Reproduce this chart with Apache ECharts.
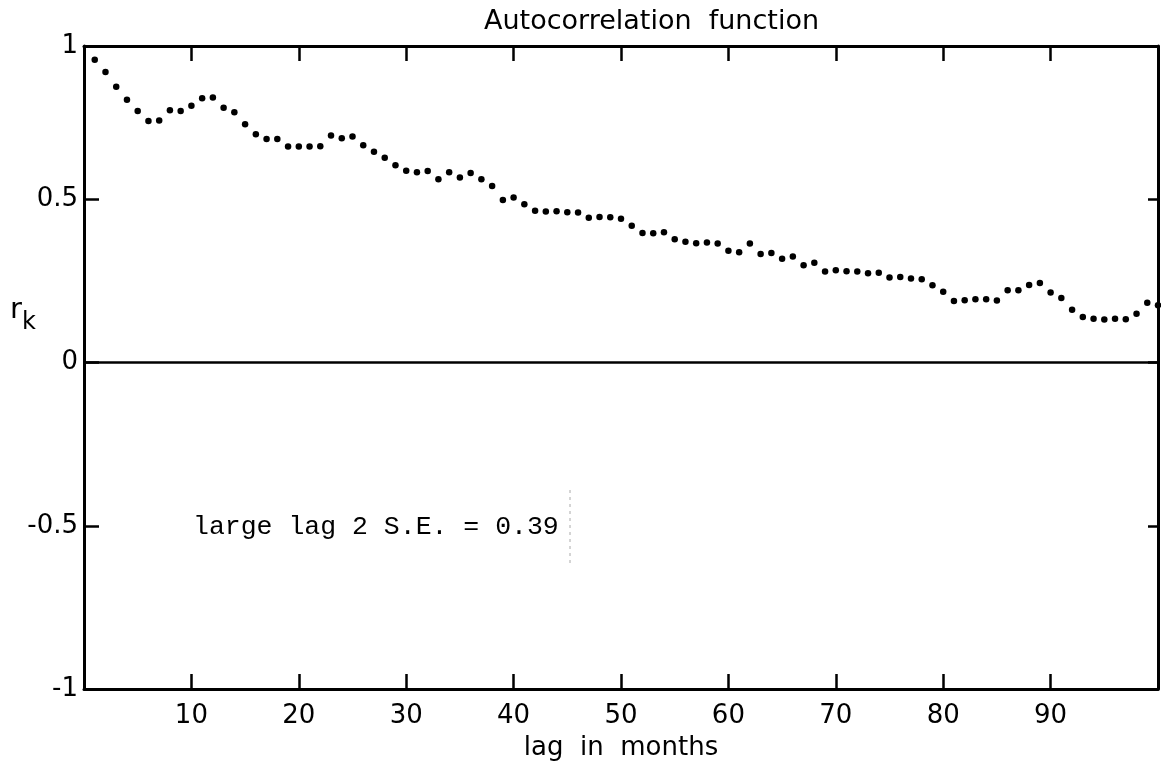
<!DOCTYPE html>
<html>
<head>
<meta charset="utf-8">
<title>Autocorrelation function</title>
<script src="https://cdn.jsdelivr.net/npm/echarts@6/dist/echarts.min.js"></script>
<style>
  html, body { margin: 0; padding: 0; background: #ffffff; }
  #chart { width: 1161px; height: 768px; }
</style>
</head>
<body>
<div id="chart"></div>
<script>
// Sample autocorrelation r_k for lags 1..100 (months)
const acf = [
  0.928, 0.890, 0.845, 0.805, 0.771, 0.740, 0.742, 0.773, 0.771, 0.787,
  0.810, 0.812, 0.781, 0.767, 0.730, 0.700, 0.685, 0.685, 0.662, 0.662,
  0.662, 0.663, 0.696, 0.687, 0.693, 0.666, 0.646, 0.628, 0.605, 0.588,
  0.583, 0.587, 0.562, 0.583, 0.567, 0.581, 0.562, 0.541, 0.498, 0.506,
  0.485, 0.465, 0.463, 0.464, 0.461, 0.460, 0.444, 0.446, 0.445, 0.441,
  0.419, 0.397, 0.396, 0.399, 0.378, 0.370, 0.366, 0.368, 0.365, 0.343,
  0.338, 0.365, 0.333, 0.336, 0.318, 0.325, 0.298, 0.306, 0.279, 0.283,
  0.280, 0.279, 0.274, 0.275, 0.261, 0.262, 0.258, 0.255, 0.237, 0.217,
  0.189, 0.191, 0.194, 0.194, 0.190, 0.222, 0.222, 0.238, 0.244, 0.215,
  0.198, 0.162, 0.140, 0.134, 0.132, 0.134, 0.133, 0.150, 0.183, 0.176
];

// Axis ranges and tick settings
const lagRange = [0, 100];
const lagStep = 10;
const rRange = [-1, 0.97];
const rStep = 0.5;

const titleText = 'Autocorrelation  function';
const xName = 'lag  in  months';
const seNote = 'large lag 2 S.E. = 0.39';

const points = acf.map((r, i) => [i + 1, r]);

const ink = '#000000';
const tickFont = '"DejaVu Sans", "Noto Sans", sans-serif';

function rLabel(v) {
  if (v > 0.9) return '1';
  if (v === 0) return '0';
  if (v === 0.5) return '0.5';
  if (v === -0.5) return '-0.5';
  if (v === -1) return '-1';
  return '';
}

const chart = echarts.init(document.getElementById('chart'), null, { renderer: 'canvas' });

chart.setOption({
  backgroundColor: '#ffffff',
  animation: false,
  title: {
    text: titleText,
    left: 479,
    top: 3,
    textStyle: { fontFamily: tickFont, fontSize: 27, fontWeight: 'normal', color: ink }
  },
  grid: { left: 84, right: 3, top: 46, bottom: 79, containLabel: false },
  xAxis: [
    {
      type: 'value',
      position: 'bottom',
      min: lagRange[0], max: lagRange[1], interval: lagStep,
      name: xName,
      nameLocation: 'middle',
      nameGap: 46,
      nameTextStyle: { fontFamily: tickFont, fontSize: 26, color: ink },
      axisLine: { show: true, onZero: false, lineStyle: { color: ink, width: 3 } },
      axisTick: { show: true, inside: true, length: 15, lineStyle: { color: ink, width: 2.5 } },
      axisLabel: {
        margin: 14, fontFamily: tickFont, fontSize: 26, color: ink,
        showMinLabel: false, showMaxLabel: false
      },
      splitLine: { show: false }
    },
    {
      type: 'value',
      position: 'top',
      min: lagRange[0], max: lagRange[1], interval: lagStep,
      axisLine: { show: true, onZero: false, lineStyle: { color: ink, width: 3 } },
      axisTick: { show: true, inside: true, length: 15, lineStyle: { color: ink, width: 2.5 } },
      axisLabel: { show: false },
      splitLine: { show: false }
    }
  ],
  yAxis: [
    {
      type: 'value',
      position: 'left',
      min: rRange[0], max: rRange[1], interval: rStep,
      axisLine: { show: true, onZero: false, lineStyle: { color: ink, width: 3 } },
      axisTick: { show: true, inside: true, length: 15, lineStyle: { color: ink, width: 2.5 } },
      axisLabel: { margin: 6, fontFamily: tickFont, fontSize: 26, color: ink, formatter: rLabel },
      splitLine: { show: false }
    },
    {
      type: 'value',
      position: 'right',
      min: rRange[0], max: rRange[1], interval: rStep,
      axisLine: { show: true, onZero: false, lineStyle: { color: ink, width: 3 } },
      axisTick: { show: true, inside: true, length: 10, lineStyle: { color: ink, width: 2.5 } },
      axisLabel: { show: false },
      splitLine: { show: false }
    }
  ],
  series: [
    {
      type: 'scatter',
      xAxisIndex: 0,
      yAxisIndex: 0,
      data: points,
      symbol: 'circle',
      symbolSize: 6.5,
      itemStyle: { color: ink, opacity: 1 },
      silent: true,
      markLine: {
        silent: true,
        symbol: 'none',
        label: { show: false },
        lineStyle: { color: ink, width: 2.5, type: 'solid', opacity: 1 },
        data: [{ yAxis: 0 }]
      }
    }
  ],
  graphic: [
    {
      type: 'text',
      left: 10,
      top: 296,
      style: {
        text: '{r|r}{k|k}',
        rich: {
          r: { fontFamily: tickFont, fontSize: 29, fill: ink, verticalAlign: 'top' },
          k: { fontFamily: tickFont, fontSize: 24, fill: ink, padding: [15, 0, 0, 0] }
        }
      }
    },
    {
      type: 'text',
      x: 193,
      y: 527,
      style: {
        text: seNote,
        fontFamily: '"Liberation Mono", "DejaVu Sans Mono", monospace',
        fontSize: 26.5,
        fill: ink,
        verticalAlign: 'middle'
      }
    },
    {
      type: 'line',
      shape: { x1: 570, y1: 490, x2: 570, y2: 566 },
      style: { stroke: '#aaaaaa', lineWidth: 1, lineDash: [3, 4] }
    }
  ]
});
</script>
</body>
</html>
